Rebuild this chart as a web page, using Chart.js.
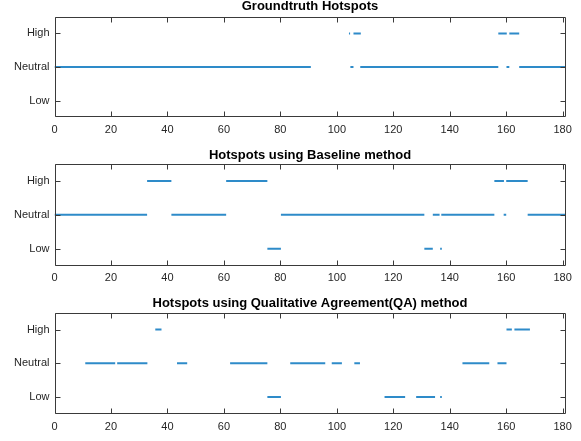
<!DOCTYPE html>
<html>
<head>
<meta charset="utf-8">
<script src="https://cdn.jsdelivr.net/npm/chart.js@4.4.1/dist/chart.umd.min.js"></script>
<style>
  html, body { margin: 0; padding: 0; background: #fff; }
  #wrap { position: relative; width: 581px; height: 441px; }
  #wrap canvas { position: absolute; left: 0; }
</style>
</head>
<body>
<div id="wrap">
  <canvas id="c0" width="581" height="140" style="top:0px"></canvas>
  <canvas id="c1" width="581" height="150" style="top:140px"></canvas>
  <canvas id="c2" width="581" height="151" style="top:290px"></canvas>
</div>
<script>
// level names, bottom to top (y = 1, 2, 3)
const levels = ['Low', 'Neutral', 'High'];
const xTicks = [0, 20, 40, 60, 80, 100, 120, 140, 160, 180];
const xMax = 181;

const titles = [
  'Groundtruth Hotspots',
  'Hotspots using Baseline method',
  'Hotspots using Qualitative Agreement(QA) method'
];

// runs of samples [from, to] at each level
const gtLow = [];
const gtNeutral = [[0, 90.8], [104.8, 105.9], [108.3, 157.2], [160.1, 161.1], [164.6, 181]];
const gtHigh = [[104.3, 104.7], [105.9, 108.5], [157.2, 160.2], [161.1, 164.6]];

const blLow = [[75.4, 80.2], [131, 134], [136.6, 137.2]];
const blNeutral = [[0, 32.8], [41.4, 60.8], [80.2, 131], [134, 136.4], [137, 155.8], [159.1, 160], [167.6, 181]];
const blHigh = [[32.8, 41.4], [60.8, 75.4], [155.8, 159.2], [160, 167.6]];

const qaLow = [[75.4, 80.2], [116.9, 124.2], [128.1, 134.8], [136.6, 137.2]];
const qaNeutral = [[10.9, 21.5], [22.2, 32.9], [43.4, 47], [62.2, 75.4], [83.5, 95.9], [98.2, 101.8], [106.2, 108.2], [144.5, 154], [156.9, 160.1]];
const qaHigh = [[35.7, 37.9], [160.1, 162], [162.9, 168.4]];

const series = [
  [gtLow, gtNeutral, gtHigh],
  [blLow, blNeutral, blHigh],
  [qaLow, qaNeutral, qaHigh]
];

// page geometry for each subplot
const GEOM = [
  { padTop: 0.2, titleGap: 3.5, xAxisH: 22.7 },
  { padTop: 8.5, titleGap: 2.5, xAxisH: 24.3 },
  { padTop: 6.8, titleGap: 2.9, xAxisH: 27 }
];

const LINE = 'rgba(0, 114, 189, 0.82)';
const AXIS = '#3a3a3a';
const TEXT = '#262626';
const FONT = '"Liberation Sans", Arial, Helvetica, sans-serif';

function toPoints(runs, y) {
  const pts = [];
  runs.forEach(([a, b]) => {
    pts.push({ x: a, y }, { x: b, y }, { x: b, y: null });
  });
  return pts;
}

const boxTicks = {
  id: 'boxTicks',
  afterDatasetsDraw(chart) {
    const { ctx, chartArea: a, scales } = chart;
    const L = 5;
    ctx.save();
    ctx.strokeStyle = AXIS;
    ctx.lineWidth = 1;
    const l = Math.round(a.left) + 0.5, r = Math.round(a.right) - 0.5;
    const t = Math.round(a.top) + 0.5, b = Math.round(a.bottom) - 0.5;
    ctx.beginPath();
    ctx.rect(l, t, r - l, b - t);
    xTicks.forEach(v => {
      const px = Math.round(scales.x.getPixelForValue(v)) + 0.5;
      ctx.moveTo(px, b); ctx.lineTo(px, b - L);
      ctx.moveTo(px, t); ctx.lineTo(px, t + L);
    });
    levels.forEach((_, i) => {
      const py = Math.round(scales.y.getPixelForValue(i + 1)) + 0.5;
      ctx.moveTo(l, py); ctx.lineTo(l + L, py);
      ctx.moveTo(r, py); ctx.lineTo(r - L, py);
    });
    ctx.stroke();
    ctx.restore();
  }
};

function makeChart(idx) {
  const g = GEOM[idx];
  const datasets = series[idx].map((runs, li) => ({
    label: levels[li],
    data: toPoints(runs, li + 1),
    borderColor: LINE,
    borderWidth: 2,
    borderCapStyle: 'butt',
    pointRadius: 0,
    spanGaps: false,
    fill: false
  }));

  new Chart(document.getElementById('c' + idx), {
    type: 'line',
    data: { datasets },
    options: {
      responsive: false,
      animation: false,
      devicePixelRatio: 1,
      layout: { padding: { left: 0, right: 15.5, top: g.padTop, bottom: 0 } },
      plugins: {
        legend: { display: false },
        tooltip: { enabled: false },
        title: {
          display: true,
          fullSize: false,
          text: titles[idx],
          color: '#000',
          font: { family: FONT, size: 13, weight: 'bold', lineHeight: 1 },
          padding: { top: 0, bottom: g.titleGap }
        }
      },
      scales: {
        x: {
          type: 'linear',
          min: 0,
          max: xMax,
          grid: { display: false, drawTicks: false },
          border: { display: false },
          afterBuildTicks: s => { s.ticks = xTicks.map(v => ({ value: v })); },
          afterFit: s => { s.height = g.xAxisH; },
          ticks: {
            color: TEXT,
            padding: 6,
            maxRotation: 0,
            autoSkip: false,
            font: { family: FONT, size: 11 }
          }
        },
        y: {
          type: 'linear',
          min: 0.5,
          max: 3.5,
          grid: { display: false, drawTicks: false },
          border: { display: false },
          afterBuildTicks: s => { s.ticks = levels.map((_, i) => ({ value: i + 1 })); },
          afterFit: s => { s.width = 54.5; },
          ticks: {
            color: TEXT,
            padding: 5,
            font: { family: FONT, size: 11 },
            callback: v => levels[v - 1]
          }
        }
      }
    },
    plugins: [boxTicks]
  });
}

[0, 1, 2].forEach(makeChart);
</script>
</body>
</html>
